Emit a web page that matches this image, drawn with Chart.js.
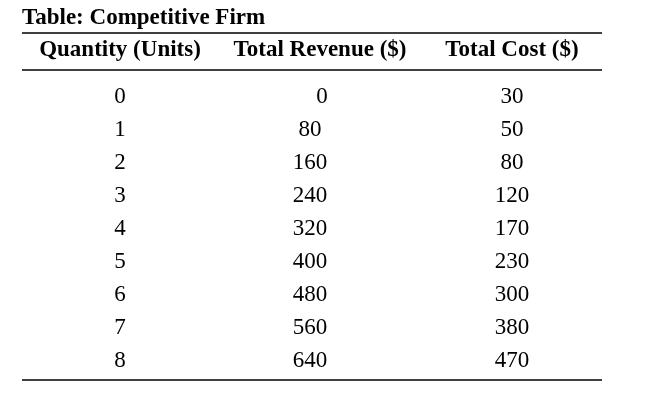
<!DOCTYPE html>
<html><head><meta charset="utf-8">
<script src="https://cdn.jsdelivr.net/npm/chart.js@4/dist/chart.umd.min.js"></script>
<style>html,body{margin:0;padding:0;background:#fff}#w{width:650px;height:416px}</style>
</head><body><div id="w"><canvas id="c"></canvas></div>
<script>
const title = "Table: Competitive Firm";
const headers = ["Quantity (Units)", "Total Revenue ($)", "Total Cost ($)"];
const quantity = [0, 1, 2, 3, 4, 5, 6, 7, 8];
const totalRevenue = [0, 80, 160, 240, 320, 400, 480, 560, 640];
const totalCost = [30, 50, 80, 120, 170, 230, 300, 380, 470];

const headerX = [120, 320, 512];
const colX = [120, 310, 512];
const rowY0 = 97, rowStep = 33;

const tablePlugin = {
  id: 'table',
  afterDraw(chart) {
    const {ctx, scales:{x, y}} = chart;
    const X = v => x.getPixelForValue(v), Y = v => y.getPixelForValue(v);
    ctx.save();
    ctx.fillStyle = '#000'; ctx.strokeStyle = '#000';
    ctx.textBaseline = 'middle';
    ctx.font = 'bold 23px "Liberation Serif", "Times New Roman", serif';
    ctx.textAlign = 'left';
    ctx.fillText(title, X(22), Y(18));
    ctx.font = 'bold 23px "Liberation Serif", "Times New Roman", serif';
    ctx.textAlign = 'center';
    headers.forEach((h, i) => ctx.fillText(h, X(headerX[i]), Y(50)));
    ctx.lineWidth = 1.3;
    [33, 70, 380].forEach(yy => {
      ctx.beginPath(); ctx.moveTo(X(22), Y(yy)); ctx.lineTo(X(602), Y(yy)); ctx.stroke();
    });
    ctx.font = '23px "Liberation Serif", "Times New Roman", serif';
    quantity.forEach((q, r) => {
      const yy = Y(rowY0 + r * rowStep);
      ctx.fillText(String(q), X(colX[0]), yy);
      ctx.fillText(String(totalRevenue[r]), X(r === 0 ? 322 : colX[1]), yy);
      ctx.fillText(String(totalCost[r]), X(colX[2]), yy);
    });
    ctx.restore();
  }
};

new Chart(document.getElementById('c'), {
  type: 'scatter',
  data: { datasets: [{ data: [] }] },
  options: {
    responsive: true, maintainAspectRatio: false, animation: false,
    layout: { padding: 0 },
    plugins: { legend: { display: false }, tooltip: { enabled: false } },
    scales: {
      x: { type: 'linear', min: 0, max: 650, display: false },
      y: { type: 'linear', min: 0, max: 416, reverse: true, display: false }
    }
  },
  plugins: [tablePlugin]
});
</script></body></html>
